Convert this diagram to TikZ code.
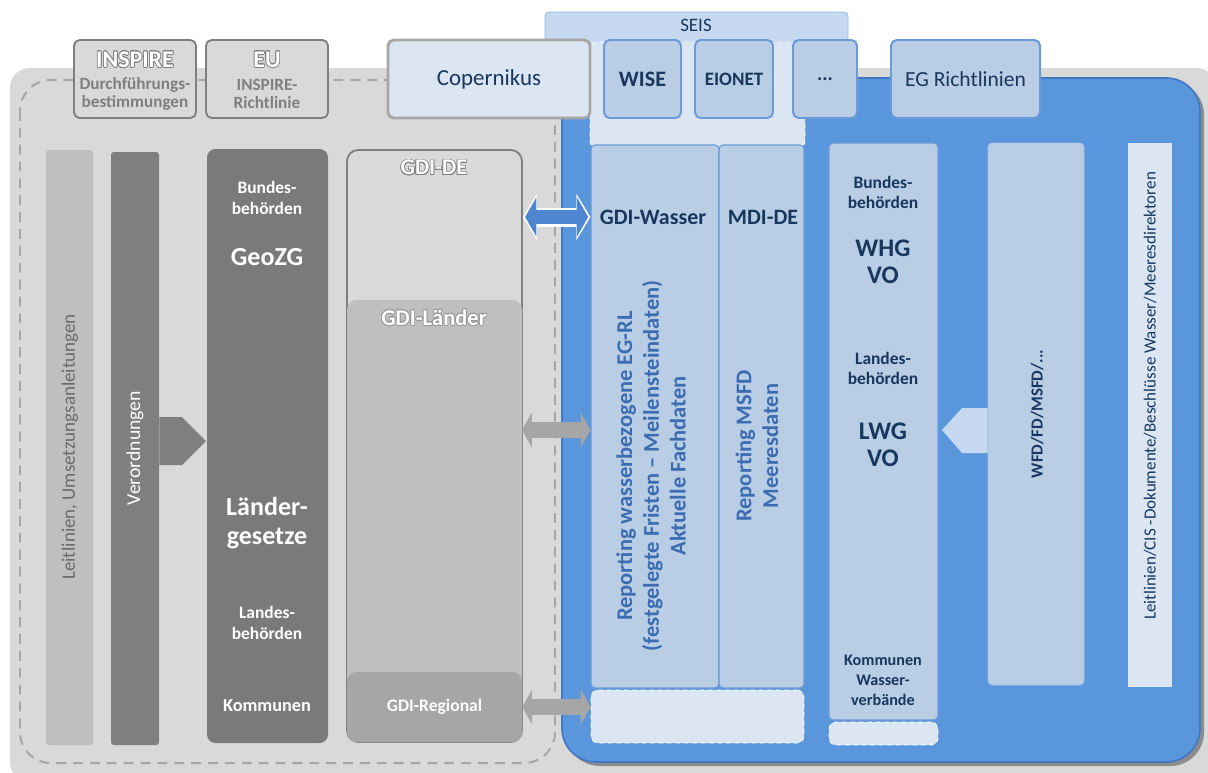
\documentclass[tikz,border=0pt]{standalone}
\usepackage{fontspec}
\setmainfont{Carlito}
\usepackage{contour}
\contourlength{0.5pt}
\usetikzlibrary{arrows.meta,positioning}

\definecolor{bggray}{HTML}{D9D9D9}
\definecolor{dashgray}{HTML}{A6A6A6}
\definecolor{boxgray}{HTML}{7F7F7F}
\definecolor{midgray}{HTML}{BFBFBF}
\definecolor{deepgray}{HTML}{7A7A7A}
\definecolor{leitgray}{HTML}{6A6A6A}
\definecolor{mainblue}{HTML}{5A96DC}
\definecolor{edgeblue}{HTML}{4277C2}
\definecolor{paleblue}{HTML}{DCE6F2}
\definecolor{lightblue}{HTML}{B9CDE5}
\definecolor{seisblue}{HTML}{C6D9F1}
\definecolor{lineblue}{HTML}{6A9AD8}
\definecolor{navy}{HTML}{17375E}
\definecolor{textblue}{HTML}{3C6CB2}
\definecolor{linkblue}{HTML}{4F86D2}

\newcommand{\fsz}[2]{\fontsize{#1}{#2}\selectfont}

\tikzset{
  boxsize/.style 2 args={minimum width=#1*0.025cm, minimum height=#2*0.025cm, inner sep=0pt},
  txt/.style={inner sep=0pt, align=center},
  graybox/.style={draw=boxgray, line width=1.3pt, fill=bggray, rounded corners=4pt},
  bluebox/.style={draw=lineblue, line width=1.4pt, fill=lightblue, rounded corners=4pt},
  column/.style={draw=lineblue, line width=0.8pt, fill=lightblue, rounded corners=3pt},
  paleregion/.style={fill=paleblue, draw=white, dashed, line width=0.6pt, rounded corners=5pt},
  bluelink/.style={linkblue, line width=10.5pt, shorten <=1.6pt, shorten >=1.6pt,
    {Triangle[length=8pt,width=28pt,line width=0pt]}-{Triangle[length=8pt,width=28pt,line width=0pt]},
    preaction={draw=white, line width=13.5pt, shorten <=0pt, shorten >=0pt,
      {Triangle[length=10pt,width=33pt,line width=0pt]}-{Triangle[length=10pt,width=33pt,line width=0pt]}}},
  graylink/.style={dashgray, line width=12pt,
    {Triangle[length=7pt,width=25pt,line width=0pt]}-{Triangle[length=7pt,width=25pt,line width=0pt]}}
}

\begin{document}
\begin{tikzpicture}[x=0.025cm, y=-0.025cm]
\useasboundingbox (0,0) rectangle (1208,772);
\fill[bggray, rounded corners=14pt] (10,68) rectangle (1216,782);
\draw[dashgray, line width=1.4pt, dash pattern=on 7pt off 5pt, rounded corners=22pt] (20,80) rectangle (555,763);
\fill[black!45, rounded corners=24pt] (566,81) rectangle (1204,766);
\draw[fill=mainblue, draw=edgeblue, line width=1.2pt, rounded corners=24pt] (562,78) rectangle (1200,762);

\node[draw=lineblue!70, line width=0.6pt, fill=seisblue, rounded corners=3pt, boxsize={303}{98}] (seis) at (696.5,61) {};
\node[txt, font=\fsz{13.5}{15}, text=navy] (seistitle) at (696,25) {SEIS};
\node[paleregion, boxsize={215}{106}] (seisbase) at (697.5,95) {};

\node[graybox, boxsize={122}{78}] (inspire) at (135,79) {};
\node[txt, font=\fsz{17}{19}\bfseries, text=white] (inspirehead) at (135,60) {\contour{boxgray}{INSPIRE}};
\node[txt, font=\fsz{12.2}{12.5}\bfseries, text=boxgray] (inspiresub) at (135,94) {Durchführungs-\\bestimmungen};
\node[graybox, boxsize={122}{78}] (eu) at (267,79) {};
\node[txt, font=\fsz{17}{19}\bfseries, text=white] (euhead) at (267,60) {\contour{boxgray}{EU}};
\node[txt, font=\fsz{12.2}{12.5}\bfseries, text=boxgray] (eusub) at (267,94) {INSPIRE-\\Richtlinie};
\node[draw=dashgray, line width=2pt, fill=paleblue, rounded corners=4pt, boxsize={202}{78}, font=\fsz{16.3}{18}, text=navy] (copernikus) at (489,79) {Copernikus};

\node[bluebox, boxsize={77}{78}, font=\fsz{15.7}{18}\bfseries, text=navy] (wise) at (642.5,79) {WISE};
\node[bluebox, boxsize={78}{78}, font=\fsz{13.5}{16}\bfseries, text=navy] (eionet) at (734,79) {EIONET};
\node[bluebox, boxsize={64}{78}, font=\fsz{14}{16}\bfseries, text=navy] (further) at (825,79) {...};
\node[bluebox, boxsize={149}{78}, font=\fsz{15.3}{18}, text=navy] (egrl) at (965.5,79) {EG Richtlinien};

\node[fill=midgray, rounded corners=2pt, boxsize={47}{595}] (leitcol) at (69.5,447.5) {};
\node[txt, rotate=90, font=\fsz{13.5}{15}, text=leitgray] (leittext) at (70,447) {Leitlinien, Umsetzungsanleitungen};
\node[fill=boxgray, rounded corners=2pt, boxsize={48}{593}] (verordcol) at (135,448.5) {};
\node[txt, rotate=90, font=\fsz{14}{16}, text=white] (verordtext) at (135,448) {Verordnungen};
\fill[boxgray] (verordcol.east |- 0,417) -- (182,417) -- (206,441) -- (182,465) -- (verordcol.east |- 0,465) -- cycle;

\node[fill=deepgray, rounded corners=6pt, boxsize={121}{594}] (gesetzcol) at (267.5,446) {};
\node[txt, font=\fsz{12.4}{15}\bfseries, text=white] (bundleft) at (267,198) {Bundes-\\behörden};
\node[txt, font=\fsz{18.5}{21}\bfseries, text=white] (geozg) at (267,257) {GeoZG};
\node[txt, font=\fsz{18.5}{21}\bfseries, text=white] (laendergesetze) at (267,523) {Länder-\\gesetze};
\node[txt, font=\fsz{12.4}{15}\bfseries, text=white] (landleft) at (267,623) {Landes-\\behörden};
\node[txt, font=\fsz{13}{15}\bfseries, text=white] (kommleft) at (267,706) {Kommunen};

\node[draw=boxgray, line width=1.3pt, fill=bggray, rounded corners=8pt, boxsize={175}{592}] (gdide) at (434.5,446) {};
\node[txt, font=\fsz{16}{18}\bfseries, text=white] (gdidehead) at (434,168) {\contour{boxgray}{GDI-DE}};
\node[fill=midgray, rounded corners=7pt, boxsize={175}{442}] (gdilaender) at (434.5,521) {};
\node[txt, font=\fsz{16}{18}\bfseries, text=white] (gdilaenderhead) at (434,318) {\contour{boxgray!80}{GDI-Länder}};
\node[fill=dashgray, rounded corners=7pt, boxsize={175}{70}, font=\fsz{12.5}{14}\bfseries, text=white] (gdiregional) at (434.5,707) {GDI-Regional};

\node[column, boxsize={128}{543}] (wasser) at (655,416.5) {};
\node[column, boxsize={85}{543}] (mdi) at (761.5,416.5) {};
\node[paleregion, boxsize={213}{53}] (wasserbase) at (697.5,716.5) {};
\node[txt, font=\fsz{15.6}{18}\bfseries, text=navy] (wasserhead) at (653,217) {GDI-Wasser};
\node[txt, font=\fsz{15.6}{18}\bfseries, text=navy] (mdihead) at (763,217) {MDI-DE};
\node[txt, rotate=90, font=\fsz{16}{19}\bfseries, text=textblue] (reporting) at (651,466) {Reporting wasserbezogene EG-RL\\(festgelegte Fristen -- Meilensteindaten)\\Aktuelle Fachdaten};
\node[txt, rotate=90, font=\fsz{16}{19}\bfseries, text=textblue] (msfd) at (757,446) {Reporting MSFD\\Meeresdaten};

\node[column, boxsize={109}{577}] (behoerden) at (883.5,431.5) {};
\node[paleregion, boxsize={109}{23}] (behoerdenbase) at (883.5,733.5) {};
\node[txt, font=\fsz{12.4}{14.2}\bfseries, text=navy] (bundright) at (883,192) {Bundes-\\behörden};
\node[txt, font=\fsz{18}{19}\bfseries, text=navy] (whg) at (883,262) {WHG\\VO};
\node[txt, font=\fsz{12.4}{14.2}\bfseries, text=navy] (landright) at (883,368) {Landes-\\behörden};
\node[txt, font=\fsz{18}{19}\bfseries, text=navy] (lwg) at (883,445) {LWG\\VO};
\node[txt, font=\fsz{11.5}{14.2}\bfseries, text=navy] (kommright) at (883,680) {Kommunen\\Wasser-\\verbände};

\node[column, draw=lineblue!60, line width=0.5pt, boxsize={96}{542}] (wfd) at (1036,414) {};
\node[txt, rotate=90, font=\fsz{12}{14}\bfseries, text=navy] (wfdtext) at (1037,414) {WFD/FD/MSFD/...};
\fill[seisblue] (942,430) -- (962,408) -- (wfd.west |- 0,408) -- (wfd.west |- 0,453) -- (962,453) -- cycle;
\node[fill=paleblue, boxsize={44}{544}] (cis) at (1150,415) {};
\node[txt, rotate=90, font=\fsz{12.1}{13}, text=navy] (cistext) at (1150,396) {Leitlinien/CIS -Dokumente/Beschlüsse Wasser/Meeresdirektoren};

\draw[bluelink] (gdide.east |- wasserhead) -- (wasser.west |- wasserhead);
\coordinate (laenderport) at (522,430);
\draw[graylink] (laenderport) -- (laenderport -| wasser.west);
\draw[graylink] (gdiregional.east) -- (gdiregional.east -| wasserbase.west);
\end{tikzpicture}
\end{document}
